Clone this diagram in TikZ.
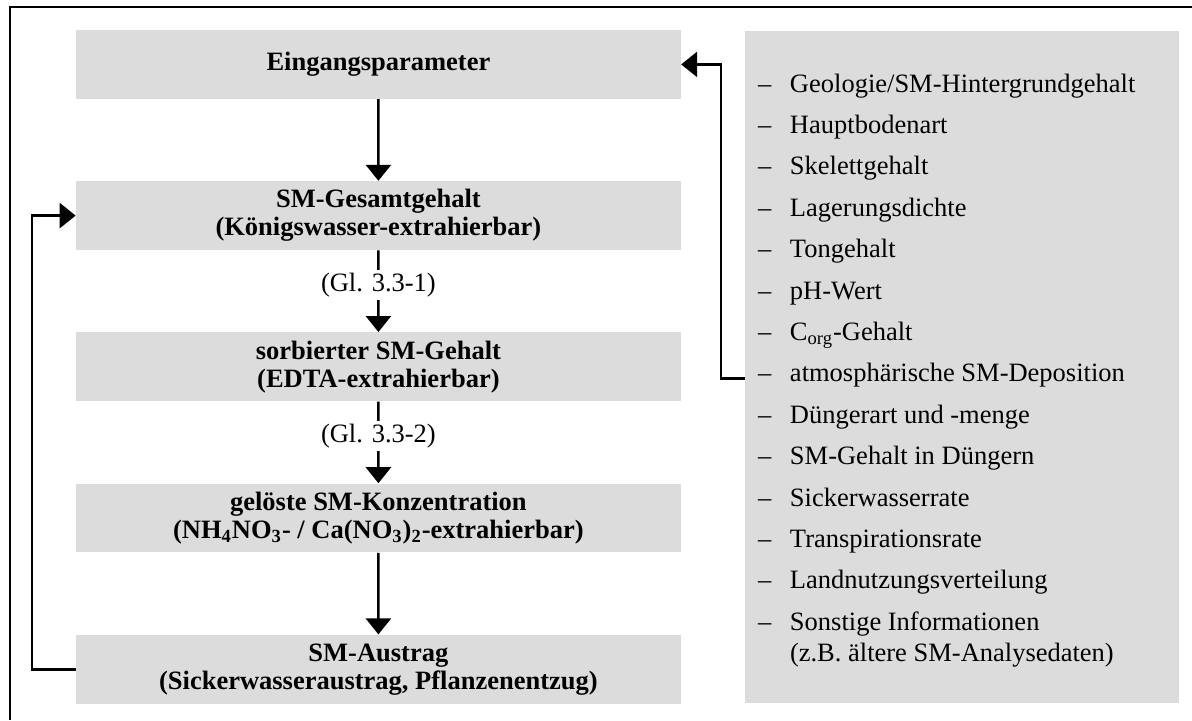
\documentclass[tikz,border=0pt]{standalone}
\usepackage{fontspec}
\setmainfont{Liberation Serif}
\usetikzlibrary{arrows.meta,positioning}
\definecolor{boxgrey}{RGB}{220,220,220}
\begin{document}
\begin{tikzpicture}[
  stage/.style={rectangle, fill=boxgrey, minimum width=302.35pt, minimum height=34.4pt, inner sep=0pt, align=center, font=\fontsize{13.25}{14}\selectfont\bfseries},
  gl/.style={fill=white, inner sep=1.5pt, pos=0.42, font=\fontsize{13.25}{15}\selectfont},
  listbox/.style={rectangle, fill=boxgrey, minimum width=217pt, minimum height=336.25pt, inner sep=0pt},
  param/.style={anchor=north west, inner sep=0pt, text height=12pt, text depth=8.3pt, font=\fontsize{13.25}{15}\selectfont},
  item/.style={param, execute at begin node={\llap{–\hspace{9.3pt}}}},
  fb/.style={line width=1.3pt, -{Triangle[length=8pt,width=12.5pt]}},
  level distance=75.6pt,
  edge from parent/.style={draw, line width=1.3pt, -{Triangle[length=8pt,width=12.5pt]}}]
\useasboundingbox (0,0) rectangle (596pt,-360pt);
\draw[line width=1pt] (596pt,-3.25pt) -- (5pt,-3.25pt) -- (5pt,-360pt);

\node[stage] (ein) at (189.2pt,-32.2pt) {Eingangsparameter}
  child {node[stage] (ges) {SM-Gesamtgehalt\\(Königswasser-extrahierbar)}
    child {node[stage] (sorb) {sorbierter SM-Gehalt\\(EDTA-extrahierbar)}
      child {node[stage] (gel) {gelöste SM-Konzentration\\(NH\textsubscript{4}NO\textsubscript{3}- / Ca(NO\textsubscript{3})\textsubscript{2}-extrahierbar)}
        child {node[stage] (aus) {SM-Austrag\\(Sickerwasseraustrag, Pflanzenentzug)}}
        edge from parent node[gl] {(Gl. 3.3-2)}
      }
      edge from parent node[gl] {(Gl. 3.3-1)}
    }
  };

\node[listbox] (params) at (481pt,-183.6pt) {};
\node[item] (p1) at (394.8pt,-33.85pt) {Geologie/SM-Hintergrundgehalt};
\node[item] (p2) at (p1.south west) {Hauptbodenart};
\node[item] (p3) at (p2.south west) {Skelettgehalt};
\node[item] (p4) at (p3.south west) {Lagerungsdichte};
\node[item] (p5) at (p4.south west) {Tongehalt};
\node[item] (p6) at (p5.south west) {pH-Wert};
\node[item] (p7) at (p6.south west) {C\textsubscript{org}-Gehalt};
\node[item] (p8) at (p7.south west) {atmosphärische SM-Deposition};
\node[item] (p9) at (p8.south west) {Düngerart und -menge};
\node[item] (p10) at (p9.south west) {SM-Gehalt in Düngern};
\node[item] (p11) at (p10.south west) {Sickerwasserrate};
\node[item] (p12) at (p11.south west) {Transpirationsrate};
\node[item] (p13) at (p12.south west) {Landnutzungsverteilung};
\node[item] (p14) at (p13.south west) {Sonstige Informationen};
\node[param] (p15) at ([yshift=5.3pt]p14.south west) {(z.B. ältere SM-Analysedaten)};

\draw[fb] (aus.west) -- ++(-21.75pt,0) |- (ges.west);
\draw[fb] (params.west |- p8) -- ++(-11.75pt,0) |- (ein.east);
\end{tikzpicture}
\end{document}
